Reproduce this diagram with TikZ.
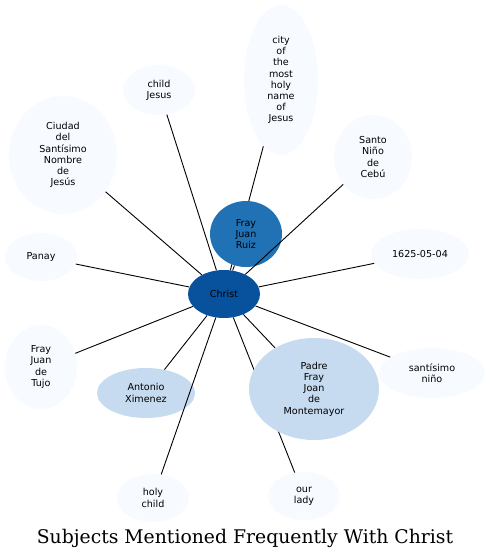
\documentclass[tikz,border=0pt]{standalone}
\usepackage{fontspec}
\setmainfont{DejaVu Sans}
\newfontfamily\titlefont{DejaVu Serif}
\usetikzlibrary{shapes.geometric,backgrounds}
\definecolor{blueA}{HTML}{08519C}
\definecolor{blueB}{HTML}{2171B5}
\definecolor{blueC}{HTML}{C6DBEF}
\definecolor{blueD}{HTML}{F7FBFF}
\begin{document}
\begin{tikzpicture}[x=1pt,y=-1pt,
  subj/.style={ellipse,inner sep=0pt,align=center,
    font=\fontsize{9.6}{11.2}\selectfont},
  light/.style={subj,fill=blueD},
  mid/.style={subj,fill=blueC},
  link/.style={black,line width=0.9pt}]
  \useasboundingbox (0,0) rectangle (490,559);
  % nodes
  \node[subj,fill=blueA,minimum width=72,minimum height=48] (christ) at (224,294) {Christ};
  \node[subj,fill=blueB,minimum width=72,minimum height=66] (ruiz) at (246,234) {Fray\\Juan\\Ruiz};
  \node[light,minimum width=74,minimum height=150] (city) at (281,80) {city\\of\\the\\most\\holy\\name\\of\\Jesus};
  \node[light,minimum width=72,minimum height=50] (child) at (159,90) {child\\Jesus};
  \node[light,minimum width=108,minimum height=118] (ciudad) at (63,155) {Ciudad\\del\\Santísimo\\Nombre\\de\\Jesús};
  \node[light,minimum width=78,minimum height=84] (santo) at (373,157) {Santo\\Niño\\de\\Cebú};
  \node[light,minimum width=98,minimum height=50] (date) at (420,254) {1625-05-04};
  \node[light,minimum width=72,minimum height=48] (panay) at (41,257) {Panay};
  \node[light,minimum width=72,minimum height=84] (tujo) at (41,367) {Fray\\Juan\\de\\Tujo};
  \node[mid,minimum width=98,minimum height=50] (ximenez) at (146,393) {Antonio\\Ximenez};
  \node[light,minimum width=72,minimum height=48] (holy) at (153,498) {holy\\child};
  \node[mid,minimum width=130,minimum height=102] (padre) at (314,389) {Padre\\Fray\\Joan\\de\\Montemayor};
  \node[light,minimum width=106,minimum height=50] (nino) at (432,373) {santísimo\\niño};
  \node[light,minimum width=72,minimum height=48] (lady) at (304,496) {our\\lady};
  % links
  \begin{pgfonlayer}{background}
    \foreach \s in {ruiz,city,child,ciudad,date,panay,tujo,ximenez,padre,nino,lady}
      \draw[link] (christ) -- (\s);
  \end{pgfonlayer}
  \draw[link] (christ) -- (santo);
  \draw[link] (christ) -- (holy);
  \node[font=\titlefont\fontsize{18.8}{20}\selectfont] (title) at (245,538) {Subjects Mentioned Frequently With Christ};
\end{tikzpicture}
\end{document}
